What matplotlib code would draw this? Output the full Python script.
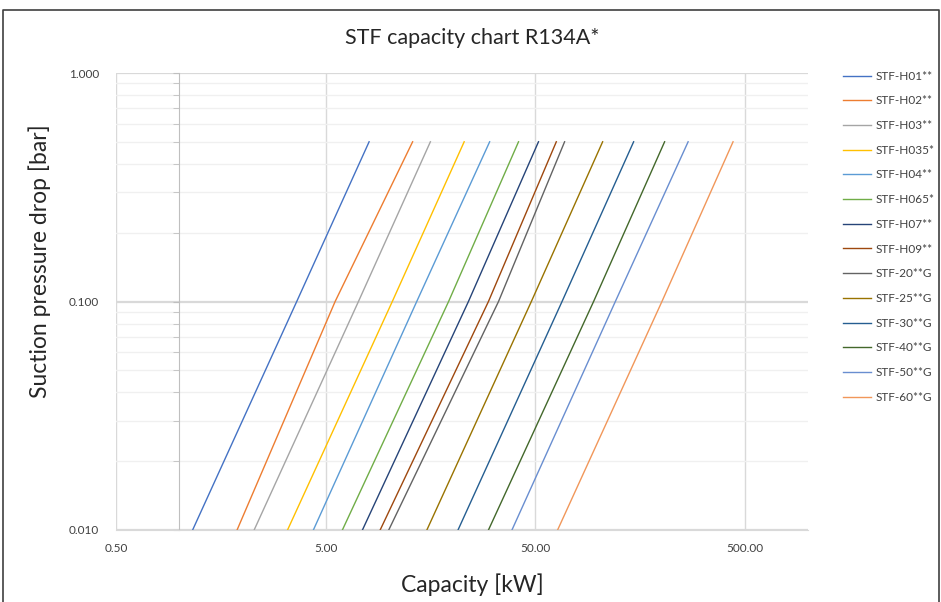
import matplotlib.pyplot as plt
from matplotlib.lines import Line2D
from matplotlib.ticker import LogLocator, FixedLocator, NullFormatter, FormatStrFormatter

plt.rcParams['font.family'] = ['Lato', 'DejaVu Sans']

# pressure drop levels [bar] at which capacity was read
dp = [0.01, 0.1, 0.5]

MODELS = ["STF-H01**", "STF-H02**", "STF-H03**", "STF-H035*", "STF-H04**",
          "STF-H065*", "STF-H07**", "STF-H09**", "STF-20**G", "STF-25**G",
          "STF-30**G", "STF-40**G", "STF-50**G", "STF-60**G"]

# capacity [kW] at dp = 0.01, 0.1, 0.5
cap_h01 = [1.16, 3.64, 8.06]
cap_h02 = [1.89, 5.55, 13.0]
cap_h03 = [2.28, 7.17, 15.8]
cap_h035 = [3.29, 10.4, 22.9]
cap_h04 = [4.37, 13.6, 30.3]
cap_h065 = [6.01, 19.3, 41.6]
cap_h07 = [7.49, 24.0, 51.8]
cap_h09 = [9.10, 29.9, 63.0]
cap_20 = [10.0, 33.4, 69.0]
cap_25 = [15.2, 47.9, 104.8]
cap_30 = [21.4, 67.1, 147.3]
cap_40 = [29.9, 94.9, 207.0]
cap_50 = [38.7, 120.5, 268.0]
cap_60 = [63.9, 201.0, 439.0]

CAPS = [cap_h01, cap_h02, cap_h03, cap_h035, cap_h04, cap_h065, cap_h07,
        cap_h09, cap_20, cap_25, cap_30, cap_40, cap_50, cap_60]

COLORS = ["#4472C4", "#ED7D31", "#A5A5A5", "#FFC000", "#5B9BD5", "#70AD47",
          "#264478", "#9E480E", "#636363", "#997300", "#255E91", "#43682B",
          "#698ED0", "#F1975A"]

fig = plt.figure(figsize=(9.41, 6.02), dpi=100)
ax = fig.add_axes([116 / 941, 72 / 602, 692 / 941, 457 / 602])

for name, cap, col in zip(MODELS, CAPS, COLORS):
    ax.plot(cap, dp, color=col, lw=1.0, label=name)

ax.set_xscale("log")
ax.set_yscale("log")
ax.set_xlim(0.5, 1000)
ax.set_ylim(0.01, 1.0)

# gridlines
ax.xaxis.set_major_locator(FixedLocator([0.5, 5, 50, 500]))
ax.xaxis.set_major_formatter(FormatStrFormatter("%.2f"))
ax.xaxis.set_minor_locator(FixedLocator([]))
ax.yaxis.set_major_locator(FixedLocator([0.01, 0.1, 1.0]))
ax.yaxis.set_minor_locator(LogLocator(base=10, subs=range(2, 10)))
ax.yaxis.set_minor_formatter(NullFormatter())
ax.grid(True, which="major", axis="x", color="#d9d9d9", lw=1.0)
ax.grid(True, which="major", axis="y", color="#d9d9d9", lw=1.6)
ax.grid(True, which="minor", axis="y", color="#f0f0f0", lw=1.0)
ax.set_axisbelow(True)

# vertical axis crosses at 1 kW
ax.spines["left"].set_position(("data", 1.0))
ax.spines["left"].set_color("#bfbfbf")
ax.spines["bottom"].set_color("#d9d9d9")
ax.spines["top"].set_visible(False)
ax.spines["right"].set_visible(False)
ax.tick_params(axis="y", which="both", direction="out", length=4, color="#bfbfbf",
               labelleft=False)
ax.tick_params(axis="x", length=0, pad=9, labelsize=8.5, labelcolor="#404040")

sec = ax.secondary_yaxis(0)
sec.yaxis.set_major_locator(FixedLocator([0.01, 0.1, 1.0]))
sec.yaxis.set_major_formatter(FormatStrFormatter("%.3f"))
sec.yaxis.set_minor_locator(FixedLocator([]))
sec.spines["left"].set_visible(False)
sec.tick_params(axis="y", length=0, pad=12, labelsize=8.5, labelcolor="#404040")

fig.text(472 / 941, 1 - 38 / 602, "STF capacity chart R134A*", ha="center",
         va="center", fontsize=15.5, color="#262626")
fig.text(40 / 941, 1 - 261 / 602, "Suction pressure drop [bar]", ha="center",
         va="center", rotation=90, fontsize=16.5, color="#262626")
fig.text(472 / 941, 1 - 585 / 602, "Capacity [kW]", ha="center", va="center",
         fontsize=16.5, color="#262626")

lgd = ax.legend(loc="upper left", bbox_to_anchor=(838 / 941, 1 - 66 / 602),
                bbox_transform=fig.transFigure, frameon=False, fontsize=8.5,
                handlelength=2.4, handletextpad=0.4, labelspacing=1.16,
                borderaxespad=0)
for t in lgd.get_texts():
    t.set_color("#404040")

# outer chart frame
fig.add_artist(Line2D([3 / 941, 3 / 941, 939 / 941, 939 / 941],
                      [0, 1 - 10 / 602, 1 - 10 / 602, 0],
                      transform=fig.transFigure, color="#404040", lw=1.2))

fig.savefig("out.png", dpi=100)
